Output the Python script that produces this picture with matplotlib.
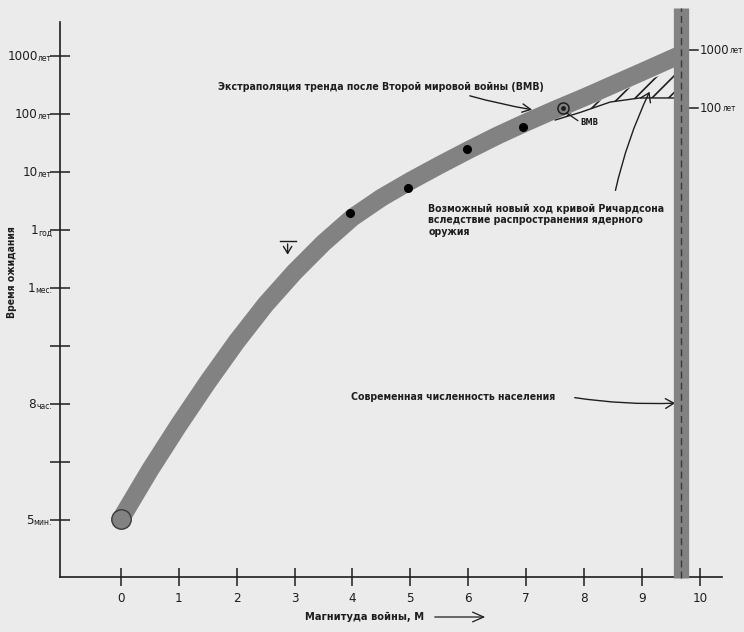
import matplotlib.pyplot as plt
from matplotlib import font_manager as fm
from matplotlib.ft2font import FT2Font

# war magnitude M (x) and waiting time on the chart's index scale (y: 0 = 5 min ... 8 = 1000 years)
band_m = [0, 0.5, 1.0, 1.5, 2.0, 2.5, 3.0, 3.5, 4.0, 4.5, 5.0, 5.5, 6.0, 6.5, 7.0, 7.5, 8.0, 8.5, 9.0, 9.65]
band_t = [0.02, 0.86, 1.64, 2.38, 3.08, 3.72, 4.28, 4.78, 5.22, 5.56, 5.85, 6.12, 6.38, 6.63, 6.86,
          7.08, 7.29, 7.51, 7.73, 8.02]

dots_m = [3.95, 4.96, 5.98, 6.94]
dots_t = [5.29, 5.72, 6.40, 6.78]

ww2_m, ww2_t = 7.63, 7.10

hatch_m = [7.50, 7.93, 8.45, 8.96, 9.60]
hatch_hi = [6.90, 7.09, 7.31, 7.53, 7.78]
hatch_lo = [6.90, 7.03, 7.21, 7.28, 7.28]

pop_m = 9.68

y_nums = ['5', '', '8', '', '1', '1', '10', '100', '1000']
y_units = ['мин.', '', 'час.', '', 'мес.', 'год', 'лет', 'лет', 'лет']
x_ticks = list(range(11))

right_t = [8.10, 7.10]
right_nums = ['1000', '100']


def has_cyrillic(path):
    try:
        cmap = FT2Font(path).get_charmap()
    except Exception:
        return False
    return all(ord(c) in cmap for c in 'ЖВМРжыя')


def narrow_font():
    # the scan uses a condensed grotesque; take a narrow face with Cyrillic if one is installed
    for f in fm.fontManager.ttflist:
        narrow = 'Narrow' in f.name or 'Condensed' in f.name or 'condensed' in str(f.stretch)
        if narrow and 'Mono' not in f.name and has_cyrillic(f.fname):
            if 'condensed' in str(f.stretch) and 'Condensed' not in f.name:
                return dict(family=[f.name, 'DejaVu Sans'], stretch='condensed'), 0.88
            return dict(family=[f.name, 'DejaVu Sans']), 1.0
    return dict(family=['Roboto', 'DejaVu Sans']), 0.8


FONT, K = narrow_font()
BG = '#ebebeb'
BAND = '#828282'
INK = '#1e1e1e'
plt.rcParams['hatch.linewidth'] = 1.2

fig = plt.figure(figsize=(7.44, 6.32), dpi=100, facecolor=BG)
ax = fig.add_axes([60 / 744, 55 / 632, 662 / 744, 555 / 632])
ax.set_facecolor(BG)
ax.set_xlim(-1.05, 10.38)
ax.set_ylim(-0.98, 8.59)

for s in ['top', 'right']:
    ax.spines[s].set_visible(False)
for s in ['left', 'bottom']:
    ax.spines[s].set_color(INK)
    ax.spines[s].set_linewidth(1.2)

ax.set_xticks(x_ticks)
ax.set_xticklabels([str(t) for t in x_ticks], fontsize=11 * K, color=INK, **FONT)
ax.tick_params(axis='x', direction='inout', length=13, width=1.1, color=INK, pad=4)
ax.set_yticks(range(len(y_nums)))
ax.set_yticklabels([])
ax.tick_params(axis='y', direction='inout', length=14, width=1.1, color=INK)

# y tick labels: big number + small unit
for i, (n, u) in enumerate(zip(y_nums, y_units)):
    if not u:
        continue
    ut = ax.text(-1.19, i - 0.09, u, ha='right', va='baseline', fontsize=7 * K, color=INK, **FONT)
    ax.annotate(n, xy=(0, 0), xycoords=ut, ha='right', va='bottom', fontsize=11 * K,
                color=INK, annotation_clip=False, **FONT)

# hatched region (possible new course)
ax.fill_between(hatch_m, hatch_lo, hatch_hi, facecolor='none', edgecolor=INK,
                hatch='//', linewidth=0, zorder=2)
ax.plot(hatch_m, hatch_lo, color=INK, lw=1.0, zorder=2)

# main band
ax.plot(band_m, band_t, color=BAND, lw=13, solid_capstyle='butt', solid_joinstyle='round', zorder=3)
ax.plot(band_m[0], band_t[0], 'o', ms=14, mfc=BAND, mec='#3a3a3a', mew=1.0, zorder=4)
ax.plot(dots_m, dots_t, 'o', ms=5.5, color='black', zorder=4)
ax.plot(ww2_m, ww2_t, 'o', ms=8, mfc='none', mec=INK, mew=1.1, zorder=4)
ax.plot(ww2_m, ww2_t, 'o', ms=2.5, color=INK, zorder=4)
ax.plot([ww2_m + 0.07, ww2_m + 0.26], [ww2_t - 0.08, ww2_t - 0.21], color=INK, lw=0.9, zorder=4)
ax.text(7.93, 6.86, 'ВМВ', fontsize=6.5 * K, fontweight='bold', color=INK,
        ha='left', va='center', **FONT)

# population limit band
ax.plot([pop_m, pop_m], [-1.0, 8.83], color=BAND, lw=11, solid_capstyle='butt', zorder=5, clip_on=False)
ax.plot([pop_m, pop_m], [-1.0, 8.83], color='#3a3a3a', lw=1.0, ls=(0, (5, 3)), zorder=6, clip_on=False)

# right-hand ticks
for t, n in zip(right_t, right_nums):
    ax.plot([9.79, 9.97], [t, t], color=INK, lw=1.1, clip_on=False)
    nt = ax.text(10.0, t, n, ha='left', va='center', fontsize=10.5 * K, color=INK, **FONT)
    ax.annotate('лет', xy=(1, 0.12), xycoords=nt, ha='left', va='bottom', fontsize=6.5 * K,
                color=INK, annotation_clip=False, **FONT)

# small marker near M=3
ax.plot([2.75, 3.02], [4.81, 4.81], color=INK, lw=1.0)
ax.annotate('', xy=(2.88, 4.53), xytext=(2.88, 4.81),
            arrowprops=dict(arrowstyle='->,head_length=0.5,head_width=0.3', color=INK, lw=1.0))

# annotations
ann = 8.6 * K
ax.text(1.68, 7.47, 'Экстраполяция тренда после Второй мировой войны (ВМВ)',
        fontsize=ann, fontweight='bold', color=INK, ha='left', va='center', **FONT)
ax.annotate('', xy=(7.15, 7.07), xytext=(5.98, 7.33),
            arrowprops=dict(arrowstyle='->,head_length=0.6,head_width=0.3', color=INK, lw=1.0,
                            connectionstyle='arc3,rad=0.03'))

ax.text(5.31, 5.17, 'Возможный новый ход кривой Ричардсона\nвследствие распространения ядерного\nоружия',
        fontsize=ann, fontweight='bold', color=INK, ha='left', va='center',
        linespacing=1.18, **FONT)
ax.annotate('', xy=(9.15, 7.43), xytext=(8.53, 5.64),
            arrowprops=dict(arrowstyle='->,head_length=0.6,head_width=0.4', color=INK, lw=1.0,
                            connectionstyle='arc3,rad=-0.06'))

ax.text(3.97, 2.12, 'Современная численность населения', fontsize=ann,
        fontweight='bold', color=INK, ha='left', va='center', **FONT)
ax.annotate('', xy=(9.62, 2.02), xytext=(7.79, 2.12),
            arrowprops=dict(arrowstyle='->,head_length=0.6,head_width=0.35', color=INK, lw=1.0,
                            connectionstyle='arc3,rad=0.05'))

# axis titles
fig.text(365 / 744, 15 / 632, 'Магнитуда войны, М', fontsize=9 * K, fontweight='bold',
         color=INK, ha='center', va='center', **FONT)
ax.annotate('', xy=(488, 15), xytext=(432, 15), xycoords='figure pixels', textcoords='figure pixels',
            arrowprops=dict(arrowstyle='->,head_length=0.8,head_width=0.35', color=INK, lw=0.9))
fig.text(12 / 744, 0.570, 'Время ожидания', fontsize=8.5 * K, fontweight='bold',
         color=INK, ha='center', va='center', rotation=90, **FONT)

fig.savefig('out.png', dpi=100, facecolor=BG)
